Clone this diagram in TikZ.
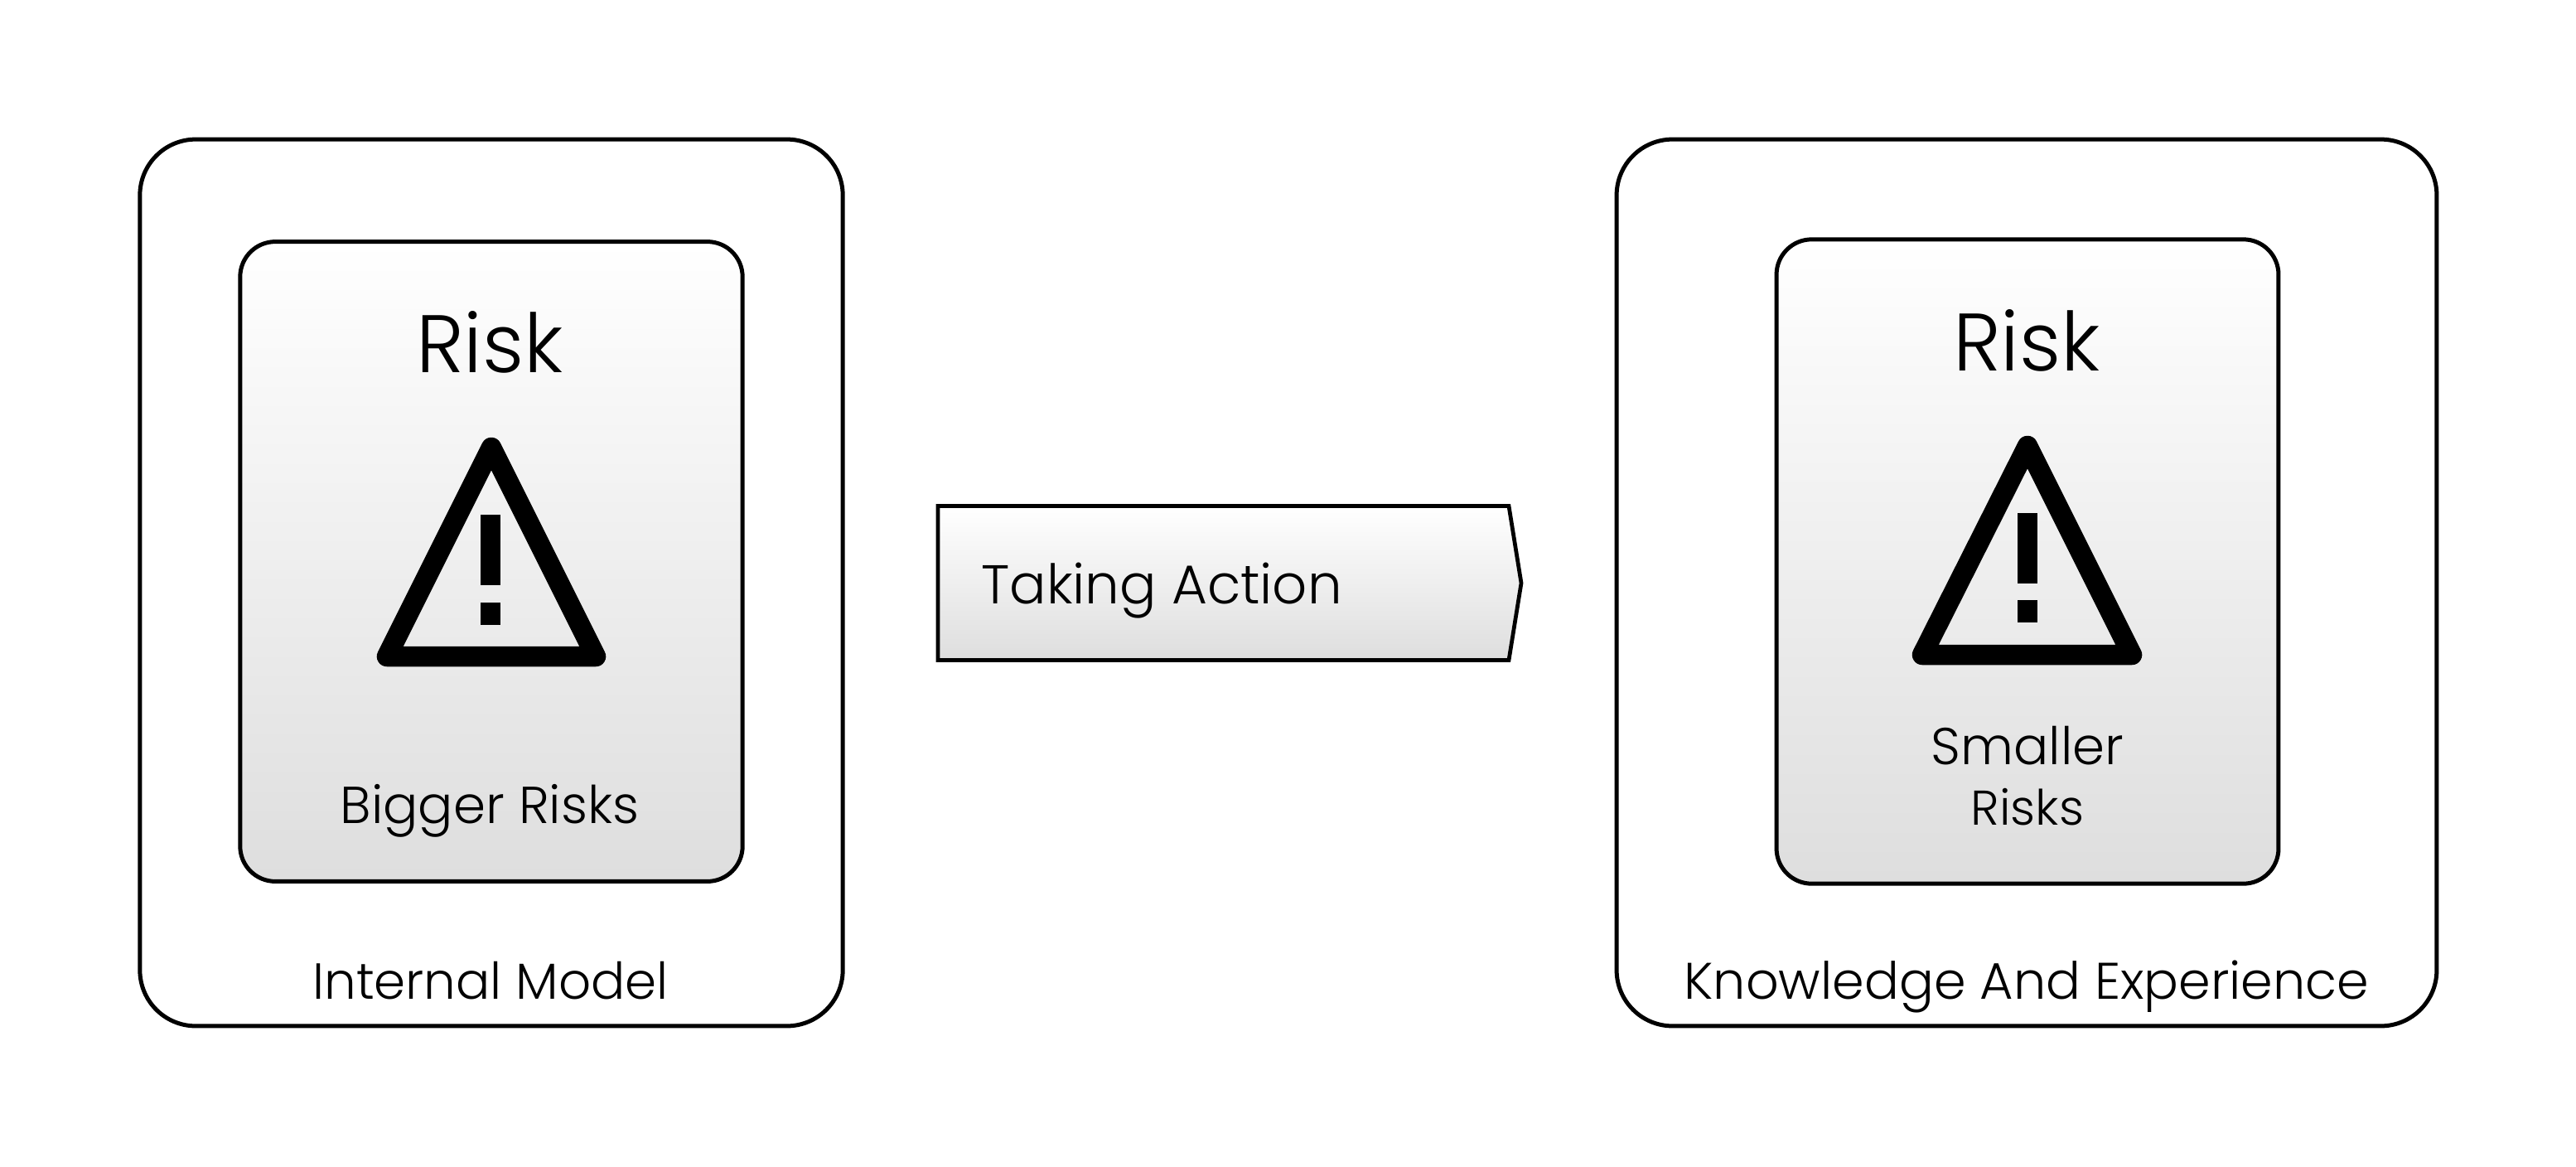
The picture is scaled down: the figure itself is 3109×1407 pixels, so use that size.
\documentclass[tikz,border=0pt]{standalone}
\usepackage{fontspec}
\setmainfont{Poppins}[UprightFont=* Light]
\newcommand{\fsz}[1]{\fontsize{#1}{#1}\selectfont}
\tikzset{
  x=0.02cm,y=-0.02cm,
  outerbox/.style={draw=black,line width=0.1cm,rounded corners=1.35cm,fill=white,rectangle,inner sep=0pt},
  innerbox/.style={draw=black,line width=0.1cm,rounded corners=0.85cm,top color=white,bottom color=black!13,rectangle,inner sep=0pt},
  arrowbox/.style={draw=black,line width=0.095cm,top color=white,bottom color=black!13,miter limit=10},
  warn/.style={draw=black,line width=0.49cm,line join=round},
  bang/.style={fill=black,draw=none,rectangle,inner sep=0pt},
  lbl/.style={anchor=base,inner sep=0pt},
}
\begin{document}
\begin{tikzpicture}
\useasboundingbox (0,0) rectangle (3109,1407);
\fill[white] (0,0) rectangle (3109,1407);
% left
\node[outerbox,minimum width=16.97cm,minimum height=21.4cm] (outerL) at (593,703) {};
\node[innerbox,minimum width=12.13cm,minimum height=15.44cm] (innerL) at (593,677.5) {};
\node[lbl,font=\fsz{56}] (riskL) at (591,449) {Risk};
\draw[warn] (467,792) -- (593,540) -- (719,792) -- cycle;
\node[bang,minimum width=0.48cm,minimum height=1.7cm] (barL) at (592,663) {};
\node[bang,minimum width=0.48cm,minimum height=0.54cm] (dotL) at (592,740) {};
\node[lbl,font=\fsz{35.7}] (bigger) at (591,993) {Bigger Risks};
\node[lbl,font=\fsz{34.8}] (internal) at (592,1205) {Internal Model};
% arrow
\path[arrowbox] (1132,610.5) -- (1821,610.5) -- (1836,703.5) -- (1821,796.5) -- (1132,796.5) -- cycle;
\node[lbl,anchor=base west,font=\fsz{37.5}] (action) at (1184,728) {Taking Action};
% right
\node[outerbox,minimum width=19.8cm,minimum height=21.4cm] (outerR) at (2446,703) {};
\node[innerbox,minimum width=12.12cm,minimum height=15.55cm] (innerR) at (2447,677.5) {};
\node[lbl,font=\fsz{56}] (riskR) at (2446,447) {Risk};
\draw[warn] (2320,790) -- (2447,538) -- (2573,790) -- cycle;
\node[bang,minimum width=0.48cm,minimum height=1.7cm] (barR) at (2447,661) {};
\node[bang,minimum width=0.48cm,minimum height=0.54cm] (dotR) at (2447,737) {};
\node[lbl,font=\fsz{35.6}] (smaller) at (2447,922) {Smaller};
\node[lbl,font=\fsz{33.5}] (risks) at (2447,995) {Risks};
\node[lbl,font=\fsz{35.3}] (knowledge) at (2446,1205) {Knowledge And Experience};
\end{tikzpicture}
\end{document}
